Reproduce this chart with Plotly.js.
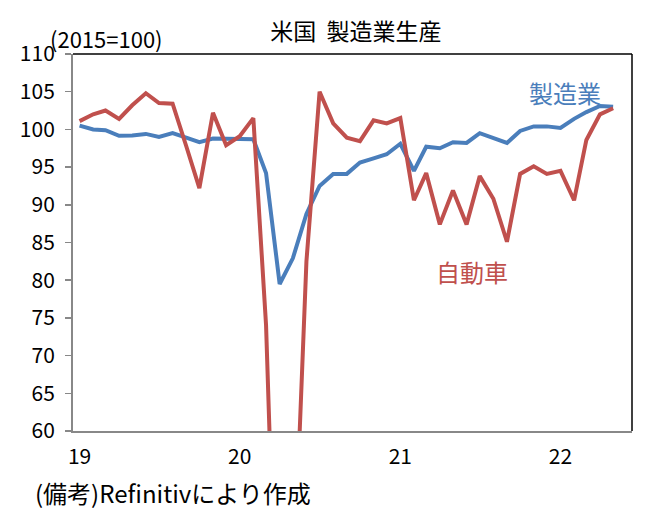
<!DOCTYPE html>
<html>
<head>
<meta charset="utf-8">
<script src="https://cdn.plot.ly/plotly-3.0.1.min.js"></script>
<style>html,body{margin:0;padding:0;background:#fff;}#chart{width:646px;height:512px;}</style>
</head>
<body>
<div id="chart"></div>
<script>
const months = [
  "2019-01-01","2019-02-01","2019-03-01","2019-04-01","2019-05-01","2019-06-01","2019-07-01","2019-08-01","2019-09-01","2019-10-01","2019-11-01","2019-12-01",
  "2020-01-01","2020-02-01","2020-03-01","2020-04-01","2020-05-01","2020-06-01","2020-07-01","2020-08-01","2020-09-01","2020-10-01","2020-11-01","2020-12-01",
  "2021-01-01","2021-02-01","2021-03-01","2021-04-01","2021-05-01","2021-06-01","2021-07-01","2021-08-01","2021-09-01","2021-10-01","2021-11-01","2021-12-01",
  "2022-01-01","2022-02-01","2022-03-01","2022-04-01","2022-05-01"
];
const manufacturing = [100.5, 100.0, 99.9, 99.15, 99.2, 99.4, 99.0, 99.5, 98.9, 98.3, 98.8, 98.75,
  98.7, 98.7, 94.2, 79.5, 82.9, 88.8, 92.5, 94.1, 94.1, 95.6, 96.15, 96.7,
  98.1, 94.5, 97.7, 97.5, 98.3, 98.2, 99.5, 98.9, 98.2, 99.8, 100.4, 100.4,
  100.2, 101.4, 102.3, 103.1, 103.0];
const autos = [101.1, 102.0, 102.5, 101.4, 103.2, 104.8, 103.5, 103.4, 97.8, 92.2, 102.2, 97.9,
  99.1, 101.5, 74, 18, 37, 82.5, 105.0, 100.8, 98.9, 98.45, 101.2, 100.8,
  101.5, 90.6, 94.2, 87.4, 91.9, 87.4, 93.8, 90.8, 85.1, 94.1, 95.1, 94.1,
  94.5, 90.6, 98.6, 102.0, 102.8];
const xTickVals = ["2019-01-01","2020-01-01","2021-01-01","2022-01-01"];
const xTickText = ["19","20","21","22"];
const yTickVals = [60,65,70,75,80,85,90,95,100,105,110];
const seriesNames = ["製造業","自動車"];
const seriesColors = ["#4a7ebb","#c0504d"];

const FONT = '"Noto Sans CJK JP", "Noto Sans", sans-serif';

const traces = [
  {x: months, y: manufacturing, type: 'scatter', mode: 'lines', name: seriesNames[0],
   line: {color: seriesColors[0], width: 4}},
  {x: months, y: autos, type: 'scatter', mode: 'lines', name: seriesNames[1],
   line: {color: seriesColors[1], width: 4}}
];

const layout = {
  width: 646, height: 512,
  paper_bgcolor: '#fff', plot_bgcolor: '#fff',
  margin: {l: 73, r: 14, t: 54, b: 81, pad: 0},
  showlegend: false,
  font: {family: FONT, color: '#000', size: 20},
  title: {text: '米国  製造業生産', x: 0.551, xanchor: 'center', y: 0.937, yanchor: 'middle', yref: 'container',
          font: {family: FONT, size: 23, color: '#000'}},
  xaxis: {
    type: 'date', range: ['2018-12-17', '2022-06-13'],
    tickmode: 'array', tickvals: xTickVals, ticktext: xTickText,
    showgrid: false, zeroline: false, showline: true, linecolor: '#888', linewidth: 2,
    ticks: '', ticklabelstandoff: 6,
    tickfont: {family: FONT, size: 21, color: '#000'}
  },
  yaxis: {
    range: [60, 110], tickmode: 'array', tickvals: yTickVals,
    showgrid: false, zeroline: false, showline: true, linecolor: '#888', linewidth: 2,
    ticks: 'outside', ticklen: 6, tickwidth: 1.5, tickcolor: '#888', ticklabelstandoff: 6,
    tickfont: {family: FONT, size: 21, color: '#000'}
  },
  shapes: [
    {type: 'line', xref: 'paper', yref: 'paper', x0: 0, x1: 1, y0: 1, y1: 1, line: {color: '#000', width: 1.5}},
    {type: 'line', xref: 'paper', yref: 'paper', x0: 1, x1: 1, y0: 0, y1: 1, line: {color: '#000', width: 1.5}}
  ],
  annotations: [
    {text: seriesNames[0], xref: 'paper', yref: 'paper', x: 0.880, y: 0.899, xanchor: 'center', yanchor: 'middle',
     showarrow: false, font: {family: FONT, size: 24, color: seriesColors[0]}},
    {text: seriesNames[1], xref: 'paper', yref: 'paper', x: 0.7136, y: 0.4236, xanchor: 'center', yanchor: 'middle',
     showarrow: false, font: {family: FONT, size: 24, color: seriesColors[1]}},
    {text: '(2015=100)', xref: 'paper', yref: 'paper', x: 0.0594, y: 1.0425, xanchor: 'center', yanchor: 'middle',
     showarrow: false, font: {family: FONT, size: 22, color: '#000'}},
    {text: '(備考)Refinitivにより作成', xref: 'paper', yref: 'paper', x: -0.0721, y: -0.163, xanchor: 'left', yanchor: 'middle',
     showarrow: false, font: {family: FONT, size: 24, color: '#000'}}
  ]
};

Plotly.newPlot('chart', traces, layout, {displayModeBar: false, staticPlot: true});
</script>
</body>
</html>
